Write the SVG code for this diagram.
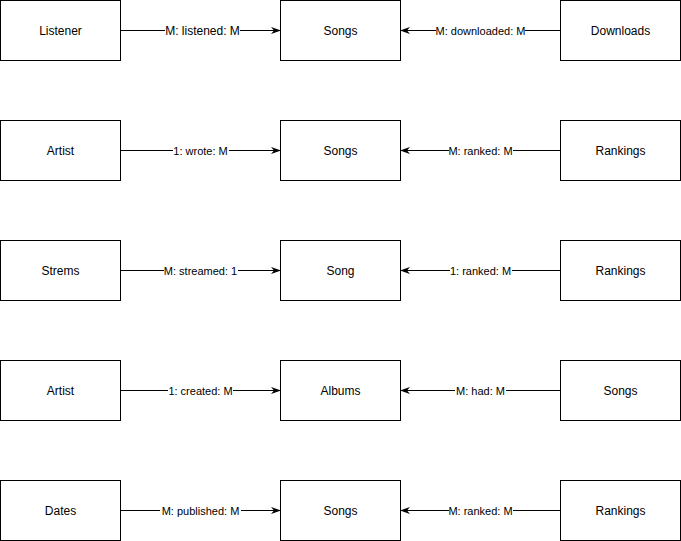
<svg xmlns="http://www.w3.org/2000/svg" width="681" height="541" viewBox="0 0 681 541">
<style>
.box{fill:#fff;stroke:#000;stroke-width:1}
.t{font-family:"Liberation Sans",Arial,Helvetica,sans-serif;font-size:12px;fill:#000;text-anchor:middle;dominant-baseline:central}
.e{stroke:#000;stroke-width:1;fill:none}
.lbg{fill:#fff}
.l{font-family:"Liberation Sans",Arial,Helvetica,sans-serif;font-size:11px;fill:#000;text-anchor:middle;dominant-baseline:central}
</style>
<defs>
<marker id="ah" viewBox="0 0 10 10" refX="9" refY="5" markerWidth="10" markerHeight="10" markerUnits="userSpaceOnUse" orient="auto">
<path d="M0,1.5 L10,5 L0,8.5 L3,5 Z" fill="#000"/>
</marker>
</defs>
<rect width="681" height="541" fill="#fff"/>
<g id="connectors">
<line class="e" x1="120.5" y1="30.5" x2="280" y2="30.5" marker-end="url(#ah)"/>
<line class="e" x1="560.5" y1="30.5" x2="401" y2="30.5" marker-end="url(#ah)"/>
<line class="e" x1="120.5" y1="150.5" x2="280" y2="150.5" marker-end="url(#ah)"/>
<line class="e" x1="560.5" y1="150.5" x2="401" y2="150.5" marker-end="url(#ah)"/>
<line class="e" x1="120.5" y1="270.5" x2="280" y2="270.5" marker-end="url(#ah)"/>
<line class="e" x1="560.5" y1="270.5" x2="401" y2="270.5" marker-end="url(#ah)"/>
<line class="e" x1="120.5" y1="390.5" x2="280" y2="390.5" marker-end="url(#ah)"/>
<line class="e" x1="560.5" y1="390.5" x2="401" y2="390.5" marker-end="url(#ah)"/>
<line class="e" x1="120.5" y1="510.5" x2="280" y2="510.5" marker-end="url(#ah)"/>
<line class="e" x1="560.5" y1="510.5" x2="401" y2="510.5" marker-end="url(#ah)"/>
<rect class="lbg" x="165" y="23" width="75" height="15"/>
<text class="l" x="202.5" y="31" style="font-size:12px">M: listened: M</text>
<rect class="lbg" x="436" y="23" width="89" height="15"/>
<text class="l" x="480.5" y="31">M: downloaded: M</text>
<rect class="lbg" x="173" y="143" width="56" height="15"/>
<text class="l" x="200.5" y="151">1: wrote: M</text>
<rect class="lbg" x="449" y="143" width="64" height="15"/>
<text class="l" x="480.5" y="151">M: ranked: M</text>
<rect class="lbg" x="164" y="263" width="74" height="15"/>
<text class="l" x="200.5" y="271">M: streamed: 1</text>
<rect class="lbg" x="450" y="263" width="62" height="15"/>
<text class="l" x="480.5" y="271">1: ranked: M</text>
<rect class="lbg" x="168" y="383" width="65" height="15"/>
<text class="l" x="200.5" y="391">1: created: M</text>
<rect class="lbg" x="455" y="383" width="51" height="15"/>
<text class="l" x="480.5" y="391">M: had: M</text>
<rect class="lbg" x="160" y="503" width="81" height="15"/>
<text class="l" x="200.5" y="511">M: published: M</text>
<rect class="lbg" x="449" y="503" width="64" height="15"/>
<text class="l" x="480.5" y="511">M: ranked: M</text>
</g>
<g id="listener"><rect class="box" x="0.5" y="0.5" width="120" height="60"/><text class="t" x="60.5" y="31">Listener</text></g>
<g id="songs1"><rect class="box" x="280.5" y="0.5" width="120" height="60"/><text class="t" x="340.5" y="31">Songs</text></g>
<g id="downloads"><rect class="box" x="560.5" y="0.5" width="120" height="60"/><text class="t" x="620.5" y="31">Downloads</text></g>
<g id="artist1"><rect class="box" x="0.5" y="120.5" width="120" height="60"/><text class="t" x="60.5" y="151">Artist</text></g>
<g id="songs2"><rect class="box" x="280.5" y="120.5" width="120" height="60"/><text class="t" x="340.5" y="151">Songs</text></g>
<g id="rankings1"><rect class="box" x="560.5" y="120.5" width="120" height="60"/><text class="t" x="620.5" y="151">Rankings</text></g>
<g id="strems"><rect class="box" x="0.5" y="240.5" width="120" height="60"/><text class="t" x="60.5" y="271">Strems</text></g>
<g id="song3"><rect class="box" x="280.5" y="240.5" width="120" height="60"/><text class="t" x="340.5" y="271">Song</text></g>
<g id="rankings2"><rect class="box" x="560.5" y="240.5" width="120" height="60"/><text class="t" x="620.5" y="271">Rankings</text></g>
<g id="artist2"><rect class="box" x="0.5" y="360.5" width="120" height="60"/><text class="t" x="60.5" y="391">Artist</text></g>
<g id="albums"><rect class="box" x="280.5" y="360.5" width="120" height="60"/><text class="t" x="340.5" y="391">Albums</text></g>
<g id="songs4"><rect class="box" x="560.5" y="360.5" width="120" height="60"/><text class="t" x="620.5" y="391">Songs</text></g>
<g id="dates"><rect class="box" x="0.5" y="480.5" width="120" height="60"/><text class="t" x="60.5" y="511">Dates</text></g>
<g id="songs5"><rect class="box" x="280.5" y="480.5" width="120" height="60"/><text class="t" x="340.5" y="511">Songs</text></g>
<g id="rankings3"><rect class="box" x="560.5" y="480.5" width="120" height="60"/><text class="t" x="620.5" y="511">Rankings</text></g>
</svg>
